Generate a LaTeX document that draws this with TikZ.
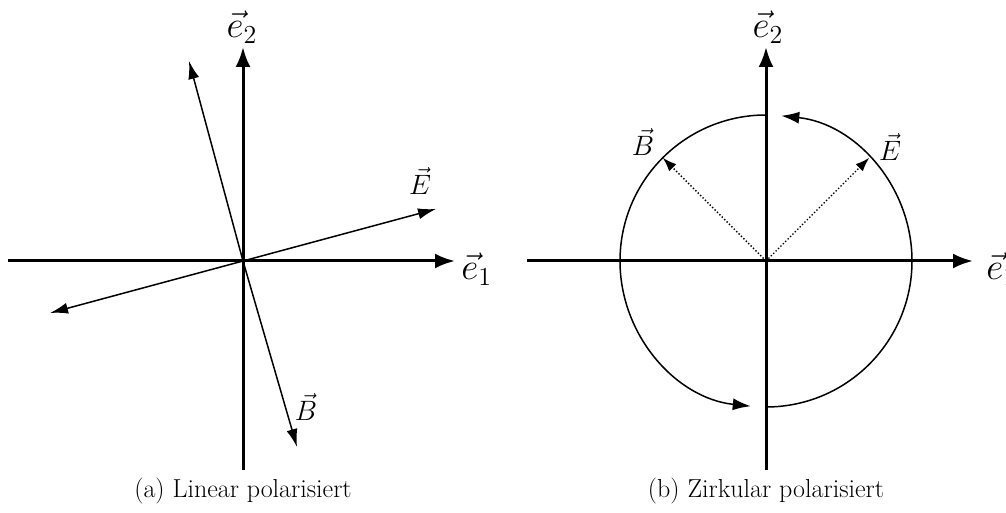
\documentclass[tikz,border=0pt]{standalone}
\usetikzlibrary{arrows.meta}
\begin{document}
\begin{tikzpicture}[x=1pt,y=1pt,
  axis/.style={line width=3pt,-{Latex[length=20pt,width=15pt]}},
  vec/.style={line width=1.5pt,-{Latex[length=18pt,width=11pt]}},
  dvec/.style={line width=1.4pt,dotted,-{Latex[length=14pt,width=10pt]}},
  circ/.style={line width=1.5pt,-{Latex[length=18pt,width=12pt]}},
  biglab/.style={font=\fontsize{20}{24}\selectfont,inner sep=0pt,scale=1.8},
  smlab/.style={font=\fontsize{20}{24}\selectfont,inner sep=0pt,scale=1.35},
  captxt/.style={font=\fontsize{26}{30}\selectfont}]
\useasboundingbox (0,0) rectangle (1006,513);
% ---- left panel
\coordinate (oa) at (243,252);
\coordinate (a1s) at (8,252);
\coordinate (a1e) at (455,252);
\coordinate (a2s) at (243,43);
\coordinate (a2e) at (243,466);
\draw[axis] (a1s) -- (a1e);
\draw[axis] (a2s) -- (a2e);
\node[biglab] (e2a) at (242,486) {$\vec{e}_2$};
\node[biglab,anchor=west] (e1a) at (461,244) {$\vec{e}_1$};
\coordinate (Ea) at (436,304);
\coordinate (Eb) at (50,200);
\coordinate (Ba) at (297,66);
\coordinate (Bb) at (189,452);
\draw[vec] (oa) -- (Ea);
\draw[vec] (oa) -- (Eb);
\draw[vec] (oa) -- (Ba);
\draw[vec] (oa) -- (Bb);
\node[smlab] (Elab) at (420,332) {$\vec{E}$};
\node[smlab] (Blab) at (306,106) {$\vec{B}$};
\node[captxt] (capa) at (243,22) {(a) Linear polarisiert};
% ---- right panel
\coordinate (ob) at (766,252);
\coordinate (b1s) at (527,252);
\coordinate (b1e) at (973,252);
\coordinate (b2s) at (766,43);
\coordinate (b2e) at (766,466);
\draw[circ] (766,106) arc[start angle=-90,end angle=84,radius=146];
\draw[circ] (766,398) arc[start angle=90,end angle=264,radius=146];
\draw[axis] (b1s) -- (b1e);
\draw[axis] (b2s) -- (b2e);
\node[biglab] (e2b) at (768,486) {$\vec{e}_2$};
\node[biglab,anchor=west] (e1b) at (986,244) {$\vec{e}_1$};
\draw[dvec] (ob) -- ++(45:146) coordinate (Ec);
\draw[dvec] (ob) -- ++(135:146) coordinate (Bc);
\node[smlab] (Elab2) at (890,366) {$\vec{E}$};
\node[smlab] (Blab2) at (643,371) {$\vec{B}$};
\node[captxt] (capb) at (766,22) {(b) Zirkular polarisiert};
\end{tikzpicture}
\end{document}
